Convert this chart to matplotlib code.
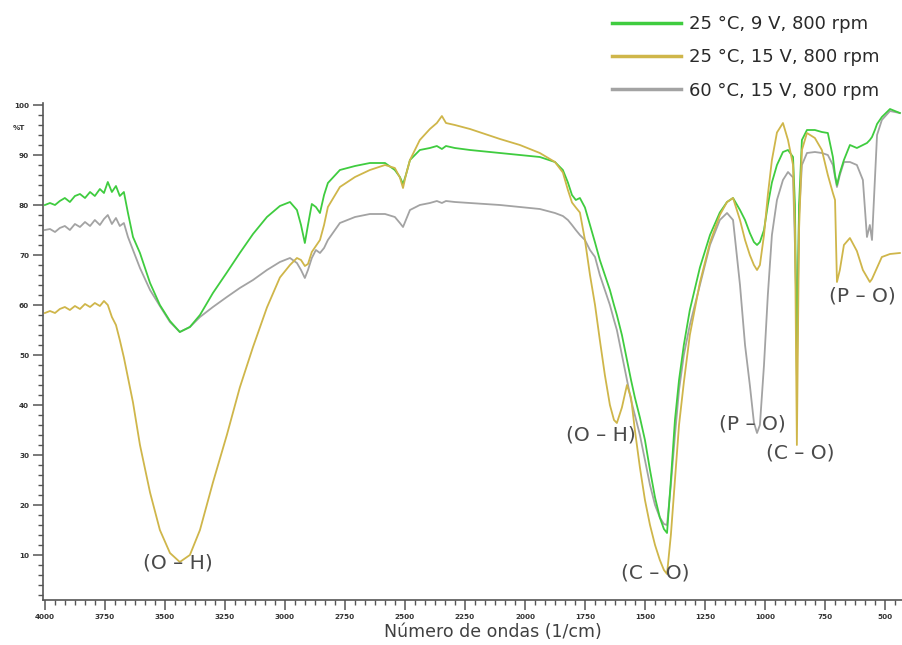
import numpy as np
import matplotlib
matplotlib.use('Agg')
import matplotlib.pyplot as plt
from matplotlib.ticker import AutoMinorLocator

# FTIR spectra (transmittance vs wavenumber) for three anodizing conditions
wavenumber = [4000, 3979, 3958, 3938, 3917, 3896, 3875, 3854, 3833, 3812,
              3792, 3771, 3754, 3738, 3721, 3704, 3688, 3671, 3654, 3633,
              3604, 3562, 3521, 3479, 3438, 3396, 3354, 3300, 3242, 3188,
              3133, 3075, 3021, 2979, 2950, 2933, 2917, 2904, 2888, 2871,
              2854, 2837, 2821, 2771, 2708, 2646, 2583, 2542, 2521, 2508,
              2496, 2479, 2438, 2396, 2367, 2346, 2329, 2292, 2229, 2104,
              2021, 1938, 1875, 1842, 1821, 1804, 1788, 1771, 1750, 1729,
              1708, 1688, 1667, 1646, 1629, 1617, 1596, 1575, 1558, 1542,
              1521, 1500, 1479, 1458, 1438, 1421, 1408, 1392, 1375, 1358,
              1338, 1313, 1271, 1229, 1188, 1158, 1133, 1104, 1083, 1063,
              1046, 1033, 1021, 1004, 988, 971, 950, 925, 904, 883,
              875, 867, 858, 846, 825, 792, 763, 738, 717, 708,
              700, 688, 671, 646, 617, 592, 575, 563, 554, 542,
              533, 513, 479, 438]

t_25c_9v = [80.0, 80.4, 80.0, 80.8, 81.4, 80.6, 81.8, 82.2, 81.4, 82.6,
            81.8, 83.2, 82.4, 84.6, 82.6, 83.8, 81.8, 82.6, 78.4, 73.6,
            70.4, 64.4, 60.0, 56.8, 54.6, 55.6, 58.0, 62.4, 66.5, 70.4,
            74.2, 77.6, 79.8, 80.6, 79.0, 76.0, 72.4, 76.0, 80.2, 79.6,
            78.4, 82.0, 84.4, 87.0, 87.8, 88.4, 88.4, 87.0, 85.6, 84.2,
            86.0, 89.0, 91.0, 91.4, 91.8, 91.2, 91.8, 91.4, 91.0, 90.4,
            90.0, 89.6, 88.6, 87.0, 84.5, 82.0, 81.0, 81.4, 79.5, 76.0,
            72.5, 69.0, 66.0, 63.0, 60.0, 58.0, 54.0, 49.0, 45.0, 41.5,
            37.5, 33.0, 27.0, 21.5, 17.5, 15.2, 14.4, 25.0, 37.0, 45.0,
            52.0, 59.0, 67.5, 74.0, 78.5, 80.6, 81.4, 79.0, 77.0, 74.4,
            72.6, 72.0, 72.6, 75.0, 80.0, 84.5, 88.0, 90.6, 91.0, 89.6,
            80.0, 46.0, 80.0, 93.0, 95.0, 95.0, 94.6, 94.4, 89.6, 86.0,
            84.0, 86.4, 89.0, 92.0, 91.4, 92.0, 92.4, 93.0, 93.6, 95.0,
            96.2, 97.6, 99.2, 98.4]

t_25c_15v = [58.4, 58.8, 58.4, 59.2, 59.6, 59.0, 59.8, 59.2, 60.2, 59.6,
             60.4, 59.8, 60.8, 60.0, 57.6, 56.0, 53.0, 49.5, 45.5, 40.5,
             32.0, 22.5, 15.0, 10.4, 8.6, 10.0, 15.0, 24.5, 34.0, 43.5,
             51.6, 59.5, 65.5, 68.0, 69.4, 69.0, 67.8, 68.2, 70.6, 71.8,
             73.0, 76.0, 79.6, 83.6, 85.6, 87.0, 88.0, 87.4, 85.5, 83.4,
             86.0, 89.0, 93.0, 95.2, 96.4, 97.8, 96.4, 96.0, 95.2, 93.2,
             92.0, 90.4, 88.6, 86.5, 83.0, 80.5, 79.5, 78.5, 73.0, 66.0,
             60.0, 53.0, 46.0, 40.0, 37.0, 36.4, 39.5, 44.0, 41.5, 35.0,
             27.5, 21.0, 16.0, 12.0, 9.0, 7.0, 6.2, 14.0, 25.0, 36.0,
             44.5, 54.0, 64.5, 72.5, 78.0, 80.6, 81.4, 77.0, 73.0, 70.0,
             68.0, 67.0, 68.0, 74.0, 82.0, 89.0, 94.5, 96.4, 93.0, 88.0,
             75.0, 32.0, 75.0, 91.0, 94.4, 93.4, 91.0, 86.0, 82.4, 81.0,
             64.6, 67.0, 72.0, 73.4, 70.8, 67.0, 65.6, 64.6, 65.2, 66.5,
             67.5, 69.6, 70.2, 70.4]

t_60c_15v = [75.0, 75.2, 74.6, 75.4, 75.8, 75.0, 76.2, 75.6, 76.6, 75.8,
             77.0, 76.0, 77.2, 78.0, 76.2, 77.4, 75.8, 76.4, 73.6, 71.0,
             67.4, 63.0, 59.8, 56.6, 54.6, 55.6, 57.6, 59.6, 61.6, 63.4,
             65.0, 67.0, 68.6, 69.4, 68.4, 67.0, 65.4, 67.0, 69.4, 71.0,
             70.4, 71.4, 73.0, 76.4, 77.6, 78.2, 78.2, 77.6, 76.4, 75.6,
             77.0, 79.0, 80.0, 80.4, 80.8, 80.4, 80.8, 80.6, 80.4, 80.0,
             79.6, 79.2, 78.4, 77.8, 77.0, 76.0, 75.0, 74.0, 73.0, 71.0,
             69.6, 66.0, 63.0, 60.0, 57.0, 55.0, 50.0, 45.0, 41.0, 38.0,
             34.0, 29.0, 24.0, 20.0, 17.5, 16.2, 16.0, 24.0, 34.0, 43.0,
             50.0, 56.0, 64.0, 72.0, 77.0, 78.4, 77.0, 64.0, 52.0, 44.0,
             36.5, 34.4, 36.0, 48.0, 62.0, 74.0, 81.0, 85.0, 86.6, 85.5,
             72.0, 56.0, 78.0, 88.0, 90.4, 90.6, 90.4, 90.0, 88.0, 85.6,
             83.6, 86.0, 88.6, 88.6, 88.0, 85.0, 73.6, 76.0, 73.0, 85.0,
             94.0, 97.0, 98.8, 98.4]

labels = ['25 °C, 9 V, 800 rpm', '25 °C, 15 V, 800 rpm', '60 °C, 15 V, 800 rpm']
colors = ['#3fcc3f', '#cfb64a', '#a3a3a3']

# band assignments: (text, wavenumber, %T)
bands = [('(O – H)', 3446, 8.4),
         ('(O – H)', 1683, 34.0),
         ('(C – O)', 1458, 6.4),
         ('(P – O)', 1054, 36.2),
         ('(C – O)', 854, 30.4),
         ('(P – O)', 596, 61.8)]

x_ticks = np.arange(4000, 499, -250)
y_ticks = np.arange(10, 101, 10)

fig = plt.figure(figsize=(9.02, 6.45), dpi=100)
ax = fig.add_axes([43 / 902, 45 / 645, 859 / 902, 497 / 645])

l_gray, = ax.plot(wavenumber, t_60c_15v, color=colors[2], lw=1.3)
l_green, = ax.plot(wavenumber, t_25c_9v, color=colors[0], lw=1.3)
l_yellow, = ax.plot(wavenumber, t_25c_15v, color=colors[1], lw=1.3)

ax.set_xlim(4008, 429)
ax.set_ylim(1, 100.4)

ax.set_xticks(x_ticks)
ax.set_xticklabels([str(v) for v in x_ticks])
ax.set_yticks(y_ticks)
ax.set_yticklabels([str(v) for v in y_ticks])
ax.xaxis.set_minor_locator(AutoMinorLocator(6))
ax.yaxis.set_minor_locator(AutoMinorLocator(5))

for side in ['top', 'right']:
    ax.spines[side].set_visible(False)
for side in ['left', 'bottom']:
    ax.spines[side].set_color('#555555')
    ax.spines[side].set_linewidth(1.2)

ax.tick_params(which='major', length=7, width=1.1, color='#555555',
               labelsize=5.2, labelcolor='#333333', pad=3)
ax.tick_params(which='minor', length=3.5, width=1.0, color='#555555')
for lbl in ax.get_xticklabels() + ax.get_yticklabels():
    lbl.set_fontweight('bold')

ax.text(-0.028, 95.4, '%T', transform=ax.get_yaxis_transform(), ha='center', va='center',
        fontsize=5.2, fontweight='bold', color='#333333')

for txt, wn, t in bands:
    ax.text(wn, t, txt, ha='center', va='center', fontsize=14.5, color='#4a4a4a')

fig.text(493 / 902, 1 - 632 / 645, 'Número de ondas (1/cm)', ha='center', va='center',
         fontsize=12.5, color='#404040')

fig.legend([l_green, l_yellow, l_gray], labels, loc='upper left',
           bbox_to_anchor=(612 / 902, 1 - 15 / 645), frameon=False, fontsize=13,
           handlelength=3.8, handletextpad=0.45, labelspacing=0.85,
           borderpad=0, borderaxespad=0, labelcolor='#2a2a2a')
for line in fig.legends[0].get_lines():
    line.set_linewidth(2.5)

fig.savefig('out.png', dpi=100)
